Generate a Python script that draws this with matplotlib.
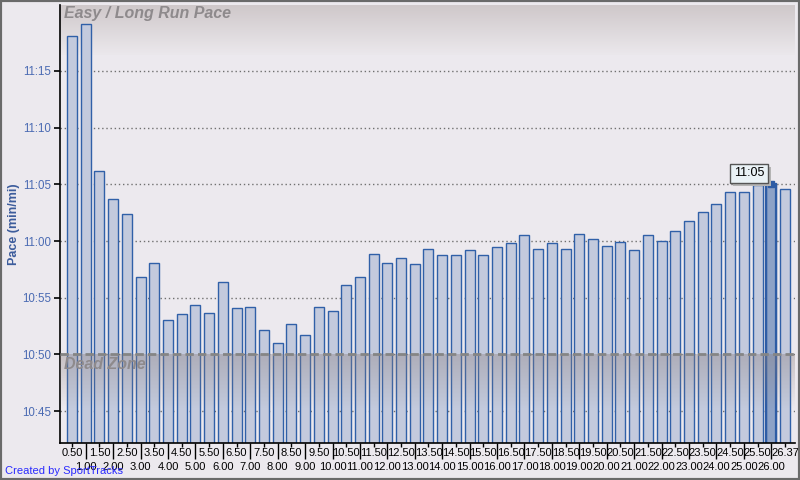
import matplotlib
matplotlib.use("Agg")
import matplotlib.pyplot as plt
import matplotlib.patheffects as pe
import numpy as np
from matplotlib.patches import Rectangle
from matplotlib.ticker import FuncFormatter

# ---- data ----
distance_labels = ["0.50", "1.00", "1.50", "2.00", "2.50", "3.00", "3.50", "4.00", "4.50", "5.00",
                   "5.50", "6.00", "6.50", "7.00", "7.50", "8.00", "8.50", "9.00", "9.50", "10.00",
                   "10.50", "11.00", "11.50", "12.00", "12.50", "13.00", "13.50", "14.00", "14.50", "15.00",
                   "15.50", "16.00", "16.50", "17.00", "17.50", "18.00", "18.50", "19.00", "19.50", "20.00",
                   "20.50", "21.00", "21.50", "22.00", "22.50", "23.00", "23.50", "24.00", "24.50", "25.00",
                   "25.50", "26.00", "26.37"]
# pace in seconds per mile
pace_sec = [678.1, 679.1, 666.2, 663.7, 662.4, 656.8, 658.1, 653.0, 653.6, 654.4,
            653.7, 656.4, 654.1, 654.2, 652.2, 651.0, 652.7, 651.7, 654.2, 653.8,
            656.1, 656.8, 658.9, 658.1, 658.5, 658.0, 659.3, 658.8, 658.8, 659.2,
            658.8, 659.5, 659.8, 660.5, 659.3, 659.8, 659.3, 660.6, 660.2, 659.6,
            659.9, 659.2, 660.5, 660.0, 660.9, 661.8, 662.6, 663.3, 664.3, 664.3,
            664.9, 665.0, 664.6]
y_ticks = [645, 650, 655, 660, 665, 670, 675]
dead_zone = 650
highlight_index = 51
tooltip_text = "11:05"
title_text = "Easy / Long Run Pace"
dead_text = "Dead Zone"
y_label = "Pace (min/mi)"
credit = "Created by SportTracks"

plt.rcParams['font.family'] = ['Liberation Sans', 'DejaVu Sans']

BG = '#ECE9EE'
fig = plt.figure(figsize=(8, 4.8), dpi=100, facecolor=BG)
ax = fig.add_axes([60/800, 37/480, 735/800, 438/480])
ax.set_facecolor(BG)

x = np.arange(len(pace_sec))
xlim = (-0.875, len(pace_sec) - 1 + 0.73)
ylim = (642.2, 680.8)

# title gradient band
top_c = np.array([207, 200, 202]) / 255
bot_c = np.array([235, 232, 236]) / 255
img = np.zeros((100, 2, 4))
for i in range(100):
    t = i / 99
    img[i, :, :3] = top_c * (1 - t) + bot_c * t
    img[i, :, 3] = 1.0
ax.imshow(img, extent=(0, 1, 1 - 50/438, 1), transform=ax.transAxes,
          aspect='auto', zorder=0.5, interpolation='bilinear')
ax.set_xlim(*xlim)
ax.set_ylim(*ylim)

# grid
for yv in y_ticks:
    ax.axhline(yv, color='#707070', lw=1.0, ls=(0, (1, 2)), zorder=1)

# bars
colors = ['#c3cadd'] * len(pace_sec)
colors[highlight_index] = '#8da2c7'
ax.bar(x, pace_sec, width=0.73, color=colors, edgecolor='#3060a8', linewidth=1.0, zorder=2)
ax.bar([x[highlight_index]], [pace_sec[highlight_index]], width=0.73, color='none',
       edgecolor='#2e5ca5', linewidth=1.6, zorder=2.1)
ax.plot([x[highlight_index]], [pace_sec[highlight_index]], marker='s', ms=5,
        color='#2e5ca5', zorder=4, clip_on=False)

# dead zone overlay (gradient made of thin strips)
n_strips = 40
dz_bottom = 645.3
edges = np.linspace(dead_zone, dz_bottom, n_strips + 1)
for k in range(n_strips):
    a = 0.38 * (1 - k / n_strips)
    ax.axhspan(edges[k + 1], edges[k], color=(0.55, 0.50, 0.50), alpha=a, lw=0, zorder=3)
ax.axhline(dead_zone, color='#858585', lw=2, ls=(0, (3, 1.5)), zorder=3.5)

ax.text(0.006, (dead_zone - ylim[0]) / (ylim[1] - ylim[0]) - 0.006, dead_text,
        transform=ax.transAxes, ha='left', va='top', fontsize=11.5,
        fontweight='bold', fontstyle='italic', color='#8e8a8c', zorder=5)
ax.text(0.006, 0.998, title_text, transform=ax.transAxes, ha='left', va='top',
        fontsize=11.5, fontweight='bold', fontstyle='italic', color='#8e8a8c', zorder=5)

# tooltip with shadow
ty = pace_sec[highlight_index]
tip = ax.annotate(tooltip_text, xy=(x[highlight_index], ty), xytext=(-22, 5),
                  textcoords='offset pixels', ha='center', va='bottom', fontsize=9,
                  color='black', zorder=6,
                  bbox=dict(boxstyle='square,pad=0.3', fc='#eaf2f6', ec='#555555', lw=1))
tip.get_bbox_patch().set_path_effects([
    pe.SimplePatchShadow(offset=(2.2, -2.2), shadow_rgbFace='#b4b4b4', alpha=1.0),
    pe.Normal()])

# axes styling
for s in ['top', 'right']:
    ax.spines[s].set_visible(False)
ax.spines['left'].set_color('black')
ax.spines['bottom'].set_color('black')
ax.spines['left'].set_linewidth(1.2)
ax.spines['bottom'].set_linewidth(1.2)

ax.set_yticks(y_ticks)
ax.yaxis.set_major_formatter(FuncFormatter(lambda v, p: f"{int(v)//60}:{int(v)%60:02d}"))
ax.tick_params(axis='y', length=4, width=1.2, colors='black', labelcolor='#4b6bb3',
               labelsize=8.3, pad=2.2)

major_idx = x[1::2]
minor_idx = x[0::2]
ax.set_xticks(major_idx)
ax.set_xticklabels([distance_labels[i] for i in major_idx])
ax.set_xticks(minor_idx, minor=True)
ax.set_xticklabels([distance_labels[i] for i in minor_idx], minor=True)
ax.tick_params(axis='x', which='major', length=11.5, width=1, labelsize=8, pad=2.5, colors='black')
ax.tick_params(axis='x', which='minor', length=3, width=1, labelsize=8, pad=0.5, colors='black')

ax.set_ylabel(y_label, color='#3c5c9c', fontsize=9, fontweight='bold')
ax.yaxis.set_label_coords(-40/735, 0.5)

fig.text(5/800, 1 - 471/480, credit, color='#2a2aff', fontsize=8, ha='left', va='center')

fig.patches.append(Rectangle((0, 0), 1, 1, transform=fig.transFigure, fill=False,
                             edgecolor='#6a6a6a', linewidth=3, zorder=10))

fig.savefig('out.png', dpi=100, facecolor=BG)
